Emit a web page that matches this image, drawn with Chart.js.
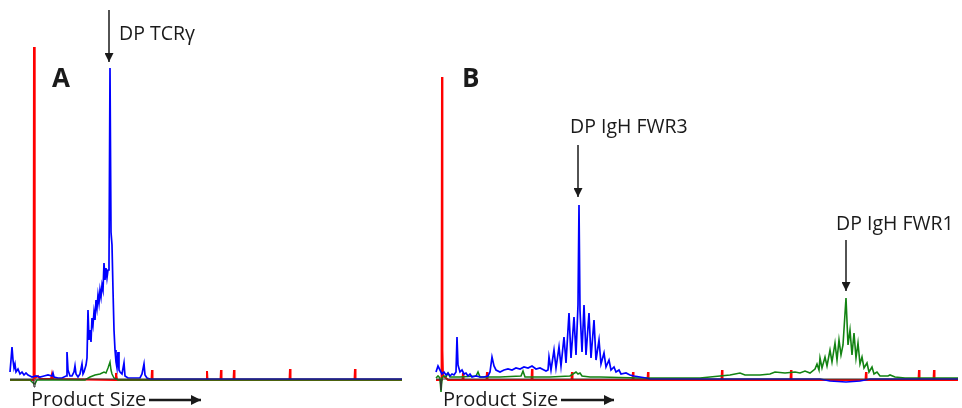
<!DOCTYPE html>
<html>
<head>
<meta charset="utf-8">
<script src="https://cdn.jsdelivr.net/npm/chart.js@4.4.0/dist/chart.umd.min.js"></script>
<style>
  html, body { margin: 0; padding: 0; background: #fff; }
  #wrap { position: relative; width: 962px; height: 408px; overflow: hidden; }
  canvas { position: absolute; top: 0; }
  #chart-a { left: 8px; }
  #chart-b { left: 432px; }
  svg { position: absolute; left: 0; top: 0; }
  text { font-family: "Open Sans", sans-serif; fill: #1a1a1a; }
</style>
</head>
<body>
<div id="wrap">
  <canvas id="chart-a" width="396" height="395"></canvas>
  <canvas id="chart-b" width="530" height="395"></canvas>
  <svg width="962" height="408">
    <defs>
      <marker id="head" viewBox="0 0 10 10" refX="10" refY="5" markerWidth="6" markerHeight="6" orient="auto">
        <path d="M0,0 L10,5 L0,10 z" fill="#1a1a1a"></path>
      </marker>
      <marker id="head2" viewBox="0 0 10 10" refX="10" refY="5" markerWidth="4.5" markerHeight="4" orient="auto">
        <path d="M0,0 L10,5 L0,10 z" fill="#1a1a1a"></path>
      </marker>
    </defs>
    <text x="52" y="87" font-size="26" font-weight="bold">A</text>
    <text x="462" y="87" font-size="26" font-weight="bold">B</text>

    <text x="119" y="40" font-size="19.5">DP TCRγ</text>
    <line x1="109" y1="10" x2="109" y2="62" stroke="#1a1a1a" stroke-width="1.5" marker-end="url(#head)"></line>

    <text x="570" y="133" font-size="19.5">DP IgH FWR3</text>
    <line x1="578" y1="145" x2="578" y2="197" stroke="#1a1a1a" stroke-width="1.5" marker-end="url(#head)"></line>

    <text x="836" y="230" font-size="19.5">DP IgH FWR1</text>
    <line x1="846" y1="240" x2="846" y2="291" stroke="#1a1a1a" stroke-width="1.5" marker-end="url(#head)"></line>

    <text x="31" y="406" font-size="20">Product Size</text>
    <line x1="149" y1="400" x2="201" y2="400" stroke="#1a1a1a" stroke-width="2.5" marker-end="url(#head2)"></line>

    <text x="443" y="406" font-size="20">Product Size</text>
    <line x1="561" y1="400" x2="614" y2="400" stroke="#1a1a1a" stroke-width="2.5" marker-end="url(#head2)"></line>
  </svg>
</div>
<script>
'use strict';

const BLUE = '#0000ff';
const RED = '#ff0000';
const GREEN = '#128312';
const BLACK = '#333333';

// panel A: [size, signal]
const aBaseline = [[10,1],[33,1],[34,-7],[35,1],[402,1]];
const aBlue = [[10,8],[11,20],[12,33],[13,20],[14,12],[15,16],[16,8],[18,11],[20,6],[22,8],[24,5],[26,7],[28,5],[30,4],[32,3],[36,4],[40,3],[44,4],[48,5],[52,4],[53,7],[54,3],[58,2],[62,2],[66,4],[67,28],[68,10],[70,4],[72,4],[74,8],[75,14],[76,6],[78,3],[80,6],[82,16],[83,6],[84,8],[86,15],[87,22],[88,70],[89,40],[90,50],[91,38],[92,62],[93,55],[94,68],[95,60],[96,80],[97,72],[98,85],[99,77],[100,90],[101,83],[102,95],[103,90],[104,117],[105,100],[106,112],[107,102],[108,110],[109,118],[110,312],[111,148],[112,135],[113,90],[114,50],[115,30],[116,18],[117,12],[118,28],[119,10],[120,8],[122,6],[124,17],[125,4],[128,2],[132,2],[136,2],[140,2],[142,6],[144,16],[145,5],[147,2],[150,1],[402,1]];
const aGreen = [[10,0],[30,0],[33,-3],[35,-4],[37,0],[85,0],[90,3],[95,5],[100,6],[104,8],[106,7],[108,12],[110,18],[111,10],[112,6],[114,2],[118,0],[402,0]];
const aRed = [[10,0],[33,0],[33.6,30],[34,333],[34.4,30],[35,2],[38,4],[40,1],[51,1],[52,6],[53,1],[115,0],[116,7],[117,0],[151.5,0],[152,10],[152.5,0],[206.5,0],[207,9],[207.5,0],[220.5,0],[221,10],[221.5,0],[233.5,0],[234,10],[234.5,0],[289.5,0],[290,11],[290.5,0],[354.5,0],[355,11],[355.5,0],[402,0]];

// panel B: [size, signal]
const bBaseline = [[436,1],[440,1],[441,-10],[442,1],[958,1]];
const bBlue = [[436,8],[438,14],[440,10],[442,6],[444,8],[446,5],[448,7],[450,4],[452,6],[454,5],[456,8],[457,43],[458,15],[460,8],[462,10],[464,6],[466,7],[468,4],[470,6],[472,3],[476,4],[480,3],[484,3],[488,4],[490,8],[492,23],[494,14],[496,10],[500,8],[504,10],[508,11],[512,10],[516,12],[520,11],[524,13],[528,12],[532,14],[536,11],[540,12],[544,10],[546,9],[548,10],[549,23],[551,10],[554,30],[556,12],[559,33],[561,14],[564,43],[566,17],[569,67],[571,22],[574,63],[576,25],[578,75],[579,175],[580,70],[582,28],[584,75],[586,25],[589,67],[591,22],[594,60],[596,20],[599,40],[601,16],[604,27],[606,13],[609,20],[611,10],[614,13],[616,8],[619,10],[621,6],[626,7],[630,5],[634,4],[640,3],[646,2],[650,1],[820,1],[830,-1],[846,-2],[860,-1],[870,1],[958,1]];
const bGreen = [[436,2],[438,4],[440,2],[441,-12],[442,2],[444,4],[446,3],[448,7],[450,3],[460,3],[476,4],[478,8],[480,3],[500,3],[521,4],[523,9],[525,3],[550,3],[570,4],[576,8],[578,6],[580,7],[582,4],[590,3],[600,3],[640,2],[700,2],[720,4],[730,5],[740,7],[745,5],[760,5],[770,6],[775,8],[785,7],[795,8],[800,7],[805,9],[810,7],[815,11],[817,16],[819,10],[820,22],[822,12],[825,23],[827,14],[830,30],[832,18],[835,37],[837,20],[839,40],[841,25],[843,35],[846,82],[848,35],[850,50],[852,25],[854,47],[856,22],[858,37],[860,16],[862,23],[864,12],[867,17],[869,8],[872,13],[874,6],[877,8],[880,4],[888,4],[890,5],[895,3],[905,2],[958,2]];
const bRed = [[436,0],[441,0],[441.6,30],[442,303],[442.4,30],[443,4],[446,2],[448,0],[462.5,0],[463,7],[463.5,0],[486.5,0],[487,8],[487.5,0],[531.5,0],[532,11],[532.5,0],[571.5,0],[572,8],[572.5,0],[632.5,0],[633,8],[633.5,0],[647.5,0],[648,8],[648.5,0],[721.5,0],[722,10],[722.5,0],[790.5,0],[791,10],[791.5,0],[865.5,0],[866,8],[866.5,0],[918.5,0],[919,10],[919.5,0],[933.5,0],[934,10],[934.5,0],[958,0]];

function toPoints(pairs) {
  return pairs.map(p => ({ x: p[0], y: p[1] }));
}

function trace(pairs, color, width) {
  return {
    data: toPoints(pairs),
    borderColor: color,
    borderWidth: width,
    pointRadius: 0,
    tension: 0,
    fill: false,
  };
}

function makePanel(id, xMin, xMax, sets) {
  return new Chart(document.getElementById(id), {
    type: 'line',
    data: { datasets: sets },
    options: {
      responsive: false,
      animation: false,
      devicePixelRatio: 1,
      layout: { padding: 0 },
      plugins: { legend: { display: false }, tooltip: { enabled: false } },
      scales: {
        x: { type: 'linear', display: false, min: xMin, max: xMax },
        y: { type: 'linear', display: false, min: -15, max: 380 },
      },
    },
  });
}

makePanel('chart-a', 8, 404, [
  trace(aBaseline, BLACK, 1),
  trace(aBlue, BLUE, 1.7),
  trace(aGreen, GREEN, 1.5),
  trace(aRed, RED, 2),
]);

makePanel('chart-b', 432, 962, [
  trace(bBaseline, BLACK, 1),
  trace(bBlue, BLUE, 1.7),
  trace(bGreen, GREEN, 1.6),
  trace(bRed, RED, 2),
]);
</script>
</body>
</html>
